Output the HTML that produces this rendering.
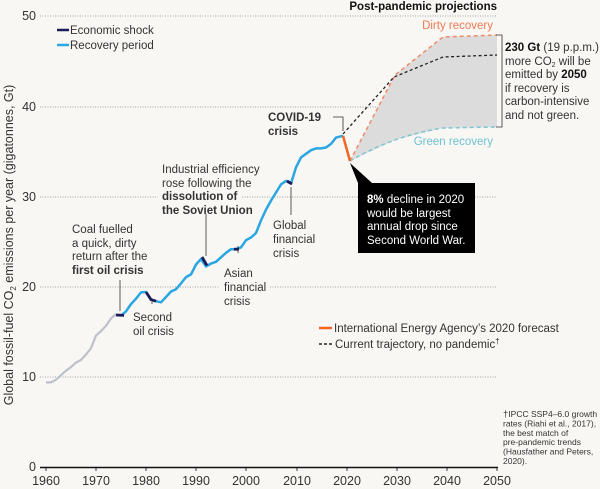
<!DOCTYPE html>
<html><head><meta charset="utf-8"><style>
html,body{margin:0;padding:0;background:#f8f7f4;}
svg{display:block;font-family:"Liberation Sans",sans-serif;}
</style></head><body>
<svg width="600" height="489" viewBox="0 0 600 489" xmlns="http://www.w3.org/2000/svg">
<rect width="600" height="489" fill="#f8f7f4"/>
<g stroke="#888" stroke-width="0.8" stroke-dasharray="1,1.5">
<line x1="40" y1="16" x2="497" y2="16"/>
<line x1="40" y1="107" x2="497" y2="107"/>
<line x1="40" y1="197" x2="158" y2="197"/><line x1="242" y1="197" x2="497" y2="197"/>
<line x1="40" y1="287" x2="220" y2="287"/><line x1="270" y1="287" x2="497" y2="287"/>
<line x1="40" y1="377" x2="497" y2="377"/>
</g>
<g font-size="12.5" fill="#333" text-anchor="end">
<text x="36" y="20">50</text><text x="36" y="111">40</text><text x="36" y="201">30</text>
<text x="36" y="291">20</text><text x="36" y="381">10</text><text x="36" y="471">0</text>
</g>
<line x1="40" y1="467.5" x2="498" y2="467.5" stroke="#111" stroke-width="1.5"/>
<g stroke="#111" stroke-width="0.8">
<line x1="46" y1="467" x2="46" y2="471"/><line x1="96" y1="467" x2="96" y2="471"/><line x1="146" y1="467" x2="146" y2="471"/><line x1="196" y1="467" x2="196" y2="471"/><line x1="246" y1="467" x2="246" y2="471"/><line x1="297" y1="467" x2="297" y2="471"/><line x1="347" y1="467" x2="347" y2="471"/><line x1="397" y1="467" x2="397" y2="471"/><line x1="447" y1="467" x2="447" y2="471"/><line x1="497" y1="467" x2="497" y2="471"/>
</g>
<g font-size="12.5" fill="#333" text-anchor="middle">
<text x="46" y="485">1960</text><text x="96" y="485">1970</text><text x="146" y="485">1980</text><text x="196" y="485">1990</text><text x="246" y="485">2000</text><text x="297" y="485">2010</text><text x="347" y="485">2020</text><text x="397" y="485">2030</text><text x="447" y="485">2040</text><text x="497" y="485">2050</text>
</g>
<text transform="translate(13,245) rotate(-90)" font-size="12.5" fill="#333" text-anchor="middle">Global fossil-fuel CO<tspan font-size="8" dy="3">2</tspan><tspan dy="-3"> emissions per year (gigatonnes, Gt)</tspan></text>

<polygon points="350,161 395,75 443,37 497,35 497,127 443,128 395,140" fill="#dcdcdc"/>
<polyline points="350,161 395,75 443,37 497,35" fill="none" stroke="#f08b6a" stroke-width="1.5" stroke-dasharray="4,3"/>
<path d="M350,161 Q395,135 443,128 L497,127" fill="none" stroke="#7cc6d6" stroke-width="1.5" stroke-dasharray="4,3"/>
<polyline points="343,134 394,77 443,57 497,55" fill="none" stroke="#222" stroke-width="1.3" stroke-dasharray="3,2.5"/>

<polyline fill="none" stroke="#bcc1cb" stroke-width="2.2" stroke-linejoin="round" points="46,382.4 51,382.4 56,379.7 61,375.2 66,370.7 71,367.1 76,362.6 81,359.9 86,354.5 91,348.2 96,335.6 101,331.1 106,325.7 111,318.5 116,314"/>
<polyline fill="none" stroke="#2aa6e2" stroke-width="2.5" stroke-linejoin="round" points="121,315.8 126,311.3 131,304.1 136,298.7 141,292.4 146,292 151,299.6 156,301.2 161,302.3 166,297 171,291.5 176,289.2 181,283.4 186,277.1 191,274.4 196,264.5 201,259 206,266.4 211,263.6 216,261.8 221,257.3 226,252.8 231,249.2 236,249.2 241,247.4 246,240.2 251,237.5 256,233 261,220.4 266,209.6 271,200.6 276,192.5 281,184.4 286,180.9 291,183.5 296,167.3 301,157.4 306,153.8 311,150.2 316,148.4 321,148.4 326,147.5 331,143.9 336,137.6 343,135.8"/>
<g stroke="#1c1b5c" stroke-width="2.8" fill="none">
<line x1="116" y1="315" x2="124" y2="315.3"/>
<polyline points="146,292 151,299.6 156,301.2"/>
<line x1="202" y1="257" x2="207" y2="265.5"/>
<line x1="234" y1="249.2" x2="239" y2="249.2"/>
<line x1="287" y1="181" x2="292" y2="184"/>
</g>
<line x1="343" y1="135.8" x2="350" y2="161" stroke="#f26522" stroke-width="2.5"/>

<g stroke="#333" stroke-width="0.8" fill="none">
<line x1="120" y1="280" x2="120" y2="311"/>
<line x1="152" y1="300" x2="152" y2="304"/>
<line x1="206" y1="214" x2="206" y2="256"/>
<line x1="238" y1="253" x2="238" y2="246"/>
<line x1="291" y1="187" x2="291" y2="215"/>
<polyline points="333,117 343,117 343,131"/>
<polyline points="496,35 502,35 502,127 496,127"/>
</g>
<polygon points="350,163 358,183 372,183" fill="#000"/>
<rect x="358" y="183" width="117" height="70" fill="#000"/>

<g font-size="11.5" fill="#333">
<line x1="57" y1="30" x2="69" y2="30" stroke="#1c1b5c" stroke-width="2.5"/>
<text x="70" y="34">Economic shock</text>
<line x1="57" y1="45" x2="69" y2="45" stroke="#2aa6e2" stroke-width="2.5"/>
<text x="70" y="49">Recovery period</text>
<text x="72" y="233">Coal fuelled</text>
<text x="72" y="247">a quick, dirty</text>
<text x="72" y="260">return after the</text>
<text x="72" y="274" font-weight="bold">first oil crisis</text>
<text x="133" y="321">Second</text>
<text x="133" y="335">oil crisis</text>
<text x="162" y="173">Industrial efficiency</text>
<text x="162" y="187">rose following the</text>
<text x="162" y="200" font-weight="bold">dissolution of</text>
<text x="162" y="214" font-weight="bold">the Soviet Union</text>
<text x="224" y="277">Asian</text>
<text x="224" y="291">financial</text>
<text x="224" y="305">crisis</text>
<text x="273" y="229">Global</text>
<text x="273" y="243">financial</text>
<text x="273" y="257">crisis</text>
<text x="268" y="121" font-weight="bold">COVID-19</text>
<text x="268" y="135" font-weight="bold">crisis</text>
<text x="497" y="10" text-anchor="end" font-weight="bold" fill="#111">Post-pandemic projections</text>
<text x="493" y="29" text-anchor="end" fill="#f07a55">Dirty recovery</text>
<text x="493" y="145" text-anchor="end" fill="#6ec3d3">Green recovery</text>
<text x="505" y="51"><tspan font-weight="bold" fill="#111">230 Gt</tspan> (19 p.p.m.)</text>
<text x="505" y="65">more CO<tspan font-size="7" dy="2">2</tspan><tspan dy="-2"> will be</tspan></text>
<text x="505" y="78">emitted by <tspan font-weight="bold" fill="#111">2050</tspan></text>
<text x="505" y="92">if recovery is</text>
<text x="505" y="105">carbon-intensive</text>
<text x="505" y="119">and not green.</text>
<g fill="#fff">
<text x="367" y="203"><tspan font-weight="bold">8%</tspan> decline in 2020</text>
<text x="367" y="217">would be largest</text>
<text x="367" y="230">annual drop since</text>
<text x="367" y="244">Second World War.</text>
</g>
<line x1="319" y1="328" x2="332" y2="328" stroke="#f26522" stroke-width="2.5"/>
<text x="334" y="332">International Energy Agency’s 2020 forecast</text>
<line x1="319" y1="344" x2="333" y2="344" stroke="#222" stroke-width="1.5" stroke-dasharray="3,2"/>
<text x="335" y="348">Current trajectory, no pandemic<tspan font-size="8" dy="-4">†</tspan></text>
</g>
<g font-size="8.5" fill="#333">
<text x="503" y="417"><tspan font-size="9.5">†</tspan>IPCC SSP4–6.0 growth</text>
<text x="503" y="426.4">rates (Riahi et al., 2017),</text>
<text x="503" y="435.8">the best match of</text>
<text x="503" y="445.2">pre-pandemic trends</text>
<text x="503" y="454.6">(Hausfather and Peters,</text>
<text x="503" y="464">2020).</text>
</g>
</svg>
</body></html>
